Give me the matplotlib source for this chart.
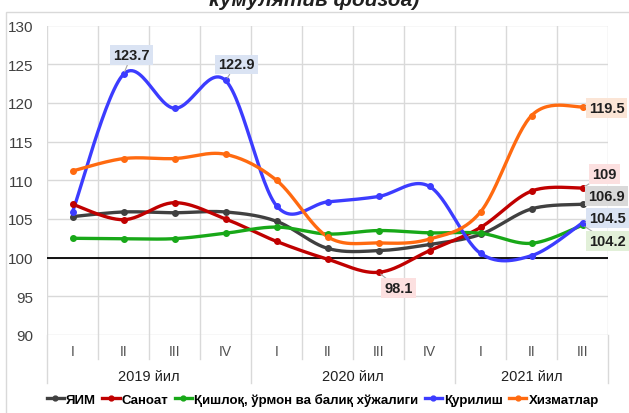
import numpy as np
import matplotlib.pyplot as plt
from matplotlib.lines import Line2D
from matplotlib.patches import Rectangle

plt.rcParams['font.family'] = ['Liberation Sans', 'DejaVu Sans']

quarters = ['I', 'II', 'III', 'IV', 'I', 'II', 'III', 'IV', 'I', 'II', 'III']
years = ['2019 йил', '2020 йил', '2021 йил']
year_spans = [(0, 3), (4, 7), (8, 10)]

yim = [105.3, 105.9, 105.8, 105.9, 104.7, 101.2, 100.9, 101.7, 103.0, 106.3, 106.9]
sanoat = [106.9, 104.9, 107.1, 105.0, 102.1, 99.8, 98.1, 100.9, 103.9, 108.6, 109.0]
qishloq = [102.5, 102.45, 102.45, 103.15, 103.95, 103.05, 103.5, 103.2, 103.15, 101.85, 104.2]
qurilish = [105.9, 123.7, 119.3, 122.9, 106.7, 107.2, 107.9, 109.2, 100.55, 100.25, 104.5]
xizmat = [111.2, 112.8, 112.8, 113.35, 110.0, 102.7, 101.9, 102.4, 105.9, 118.35, 119.5]

names = ['ЯИМ', 'Саноат', 'Қишлоқ, ўрмон ва балиқ хўжалиги', 'Қурилиш', 'Хизматлар']
colors = ['#404040', '#c00000', '#18a818', '#3c3cff', '#ff6a10']
series = [yim, sanoat, qishloq, qurilish, xizmat]


def smooth(y, n=30):
    # catmull-rom, как сглаживание в excel
    y = np.asarray(y, float)
    x = np.arange(len(y), dtype=float)
    px = np.concatenate([[x[0]], x, [x[-1]]])
    py = np.concatenate([[y[0]], y, [y[-1]]])
    xs, ys = [], []
    for i in range(1, len(px) - 2):
        t = np.linspace(0, 1, n)
        for arr, out in ((px, xs), (py, ys)):
            p0, p1, p2, p3 = arr[i - 1], arr[i], arr[i + 1], arr[i + 2]
            out.append(0.5 * (2 * p1 + (-p0 + p2) * t
                              + (2 * p0 - 5 * p1 + 4 * p2 - p3) * t ** 2
                              + (-p0 + 3 * p1 - 3 * p2 + p3) * t ** 3))
    return np.concatenate(xs), np.concatenate(ys)


fig = plt.figure(figsize=(6.29, 4.14), dpi=100)
ax = fig.add_axes([47 / 629, 1 - 336 / 414, 561 / 629, 309.5 / 414])

x = np.arange(len(quarters))
for s, c in zip(series, colors):
    sx, sy = smooth(s)
    ax.plot(sx, sy, color=c, lw=2.4, solid_capstyle='round', zorder=3)
    ax.plot(x, s, 'o', color=c, ms=4, zorder=4)

ax.axhline(100, color='black', lw=1.3, zorder=2)
ax.set_xlim(-0.5, 10.5)
ax.set_ylim(90, 130)
ax.set_yticks(np.arange(90, 131, 5))
ax.set_xticks(np.arange(-0.5, 10.6, 1))
ax.set_xticklabels([])
ax.grid(True, color='#d9d9d9', lw=1)
ax.set_axisbelow(True)
for sp in ax.spines.values():
    sp.set_visible(False)
ax.tick_params(axis='both', length=0, labelsize=11, labelcolor='#404040')
ax.tick_params(axis='y', pad=10)

# подписи кварталов и годов
trans = ax.get_xaxis_transform()
px_y = 1 / 309.5
for i, q in enumerate(quarters):
    ax.text(i, -16 * px_y, q, transform=trans, ha='center', va='center',
            fontsize=10, color='#505050')
for b in np.arange(-0.5, 10.6, 1):
    ln = 48 if b in (-0.5, 3.5, 7.5, 10.5) else 24
    ax.add_line(Line2D([b, b], [0, -ln * px_y], transform=trans, color='#d9d9d9',
                       lw=1, clip_on=False))
for yr, (a, b) in zip(years, year_spans):
    ax.text((a + b) / 2, -41 * px_y, yr, transform=trans, ha='center', va='center',
            fontsize=10.5, color='#202020')

# подписи значений
labels = [
    (1, 123.7, '123.7', '#dae3f3', 8, 19),
    (3, 122.9, '122.9', '#dae3f3', 11, 16),
    (6, 98.1, '98.1', '#fce0e0', 20, -16),
    (10, 119.5, '119.5', '#fbe5d6', 24, -1),
    (10, 109.0, '109', '#fce0e0', 22, 14),
    (10, 106.9, '106.9', '#d9d9d9', 24, 8),
    (10, 104.5, '104.5', '#dae3f3', 25, 5),
    (10, 104.2, '104.2', '#e2f0d9', 25, -16),
]
for xi, yv, t, bg, dx, dy in labels:
    ax.annotate(t, (xi, yv), xytext=(dx, dy), textcoords='offset pixels',
                ha='center', va='center', fontsize=10.5, fontweight='bold',
                color='#202020', annotation_clip=False, zorder=6,
                bbox=dict(boxstyle='square,pad=0.2', fc=bg, ec='none'),
                arrowprops=dict(arrowstyle='-', color='#a6a6a6', lw=0.8,
                                shrinkA=0, shrinkB=2))

handles = [Line2D([], [], color=c, lw=2.4, marker='o', ms=3.5) for c in colors]
fig.legend(handles, names, loc='center', bbox_to_anchor=(0.513, 1 - 400 / 414), ncol=5,
           frameon=False, prop={'weight': 'bold', 'size': 9.5}, handlelength=1.3,
           handletextpad=0.15, columnspacing=0.5, borderpad=0.2)

fig.text(0.5, 1 - 6 / 414, 'кумулятив фоизда)', ha='center', va='baseline',
         fontsize=15, fontweight='bold', style='italic', color='#202020')
fig.add_artist(Rectangle((6 / 629, -0.01), 1, 1 - 13 / 414 + 0.01, transform=fig.transFigure,
                         fill=False, ec='#d9d9d9', lw=1))

plt.savefig('out.png', dpi=100)
